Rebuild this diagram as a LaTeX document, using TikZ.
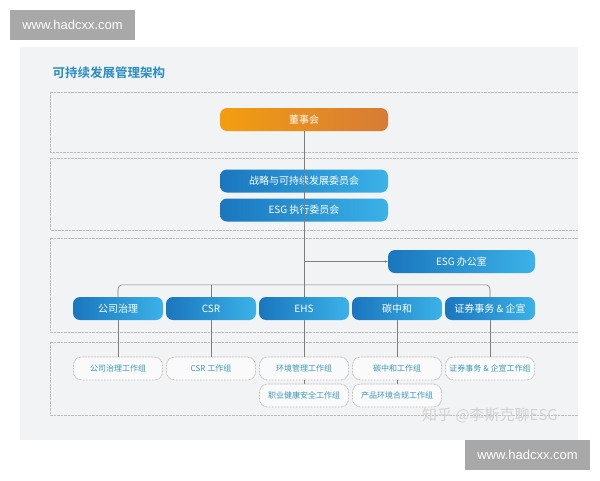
\documentclass[tikz,border=0pt]{standalone}
\usepackage{fontspec}
\setmainfont{Noto Sans CJK SC}[BoldFont={Noto Sans CJK SC Bold}]
\newfontfamily\wmfont{Liberation Sans}
\usetikzlibrary{calc,arrows.meta}

\definecolor{panelgray}{HTML}{F2F3F4}
\definecolor{framegray}{HTML}{BDBDBD}
\definecolor{linegray}{HTML}{7E7E7E}
\definecolor{esgdark}{HTML}{1A76BE}
\definecolor{esglight}{HTML}{3BB2E8}
\definecolor{boardlight}{HTML}{F39E10}
\definecolor{boarddark}{HTML}{D67B36}
\definecolor{titleblue}{HTML}{2A8DC4}
\definecolor{groupteal}{HTML}{3C98B4}
\definecolor{markgray}{HTML}{A8A8A8}

\tikzset{
  mainbox/.style={rounded corners=7pt, minimum height=23pt, inner sep=0pt,
    text=white, font=\fontsize{10}{11}\selectfont},
  bluebox/.style={mainbox, left color=esgdark, right color=esglight, minimum width=90pt},
  boardbox/.style={mainbox, left color=boardlight, right color=boarddark, minimum width=168pt},
  groupbox/.style={rounded corners=8pt, minimum width=89pt, minimum height=23pt, inner sep=0pt,
    fill=white!60!panelgray, draw=linegray!70, dash pattern=on 0.7pt off 0.8pt, line width=0.6pt,
    text=groupteal, font=\fontsize{8}{9}\selectfont},
  frame/.style={draw=framegray, dash pattern=on 0.6pt off 0.8pt, line width=0.6pt},
  link/.style={draw=linegray, line width=0.6pt},
  markbox/.style={fill=markgray, text=white, minimum width=125pt, minimum height=30pt,
    inner sep=0pt, font=\wmfont\fontsize{13}{14}\selectfont}
}

\begin{document}
\begin{tikzpicture}[x=1pt, y=-1pt]
        \useasboundingbox (0,0) rectangle (600,480);
        \fill[white] (0,0) rectangle (600,480);

        % Panel
        \fill[panelgray] (20,47) rectangle (578,440);
        \node[anchor=west, text=titleblue, font=\fontsize{12.5}{14}\selectfont\bfseries] (Title) at (49,73) {可持续发展管理架构};

        % Frames
        \draw[frame] (578,92) -| (50,152) -- (578,152);
        \draw[frame] (578,158) -| (50,230) -- (578,230);
        \draw[frame] (578,238) -| (50,332) -- (578,332);
        \draw[frame] (578,342) -| (50,415) -- (578,415);

        % Board level
        \node[boardbox] (Board) at (304,119.5) {董事会};

        % Committees
        \node[bluebox, minimum width=168pt] (Strategy) at (304,181) {战略与可持续发展委员会};
        \node[bluebox, minimum width=168pt] (Exec) at ($(Strategy)+(0,29)$) {ESG 执行委员会};

        % Office
        \node[bluebox, minimum width=147pt] (Office) at (461.5,261.5) {ESG 办公室};

        % Functions
        \node[bluebox] (Gov) at (118,308.5) {公司治理};
        \node[bluebox] (CSR) at ($(Gov)+(93,0)$) {CSR};
        \node[bluebox] (EHS) at ($(CSR)+(93,0)$) {EHS};
        \node[bluebox] (Carbon) at ($(EHS)+(93,0)$) {碳中和};
        \node[bluebox] (Sec) at ($(Carbon)+(93,0)$) {证券事务 \& 企宣};

        % Working groups
        \node[groupbox] (GovG) at ($(Gov)+(0,60)$) {公司治理工作组};
        \node[groupbox] (CSRG) at ($(CSR)+(0,60)$) {CSR 工作组};
        \node[groupbox] (EnvG) at ($(EHS)+(0,60)$) {环境管理工作组};
        \node[groupbox] (CarbonG) at ($(Carbon)+(0,60)$) {碳中和工作组};
        \node[groupbox] (SecG) at ($(Sec)+(0,60)$) {证券事务 \& 企宣工作组};

        \node[groupbox] (OhsG) at ($(EnvG)+(0,27)$) {职业健康安全工作组};
        \node[groupbox] (ProdG) at ($(CarbonG)+(0,27)$) {产品环境合规工作组};

        % Connectors
        \draw[link] (Board.south) -- (EHS.north);
        \draw[link, -{Stealth[length=3pt, width=2.5pt]}] (Board.south |- Office.west) -- (Office.west);

        \draw[link, rounded corners=4pt] (Gov.north) |- ($(Sec.north)+(0,-12)$) -- (Sec.north);
        \draw[link] (CSR.north) -- ++(0,-12);
        \draw[link] (Carbon.north) -- ++(0,-12);

        \draw[link] (Gov) -- (GovG);
        \draw[link] (CSR) -- (CSRG);
        \draw[link] (EHS) -- (EnvG);
        \draw[link] (Carbon) -- (CarbonG);
        \draw[link] (Sec) -- (SecG);

        \draw[link] (EnvG) -- (OhsG);
        \draw[link] (CarbonG) -- (ProdG);

        % Marks
        \node[text=black!18, font=\fontsize{15}{16}\selectfont] (Zhihu) at (490,415) {知乎 @李斯克聊ESG};
        \node[markbox] (MarkTop) at (72.5,25) {www.hadcxx.com};
        \node[markbox] (MarkBottom) at (527.5,455) {www.hadcxx.com};

    \end{tikzpicture}
\end{document}
